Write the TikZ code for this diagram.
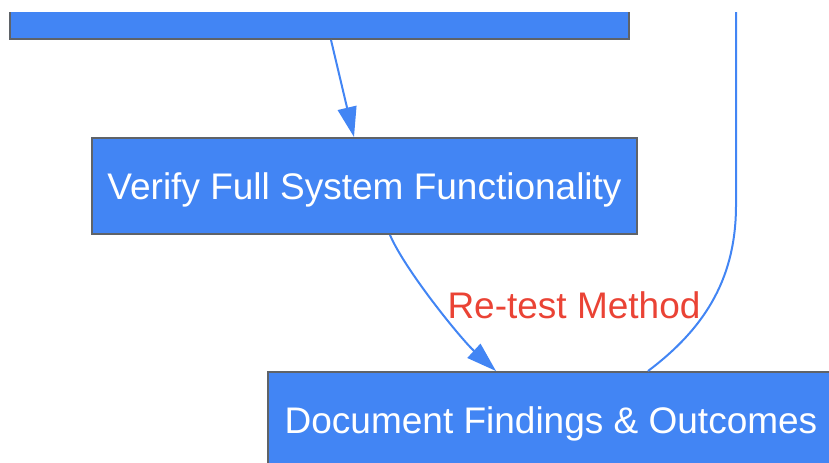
\documentclass[tikz,border=0pt]{standalone}
\usepackage{fontspec}
\setmainfont{Liberation Sans}
\usetikzlibrary{arrows.meta}
\definecolor{gblue}{HTML}{4285F4}
\definecolor{ggray}{HTML}{5F6368}
\definecolor{gred}{HTML}{EA4335}
\begin{document}
\begin{tikzpicture}[x = 0.5pt, y = -0.5pt,
	box/.style = {draw = ggray, line width = 1pt, fill = gblue, text = white, minimum height = 48pt, inner sep = 0pt, text depth = 0pt, font = \fontsize{18.5}{22}\selectfont},
	link/.style = {gblue, line width = 1pt},
	tip/.style = {-{Triangle[length = 15pt, width = 9.5pt]}}]
	\useasboundingbox (0,0) rectangle (829,462);
	\begin{scope}
	\clip (0,12) rectangle (829,462);
	\node[box, minimum width = 309.5pt] (check) at (319.5,-9) {};
	\node[box, minimum width = 272.5pt] (verify) at (364.5,186) {Verify Full System Functionality};
	\node[box, minimum width = 283pt] (document) at (551,420) {Document Findings \& Outcomes};
	\coordinate (loopbend) at (736,205);
	\coordinate (looptop) at (736,-60);
	\draw[link, tip] ([xshift = 5.75pt]check.south) -- ([xshift = -5.25pt]verify.north);
	\draw[link, tip] ([xshift = 12.75pt]verify.south) .. controls +(15,35) and +(-35,-32) .. ([xshift = -27.5pt]document.north);
	\draw[link] ([xshift = 48.5pt]document.north) .. controls +(60,-45) and +(0,70) .. (loopbend) -- (looptop);
	\node[text = gred, font = \fontsize{18.5}{22}\selectfont] (retest) at (574,305) {Re-test Method};
	\end{scope}
\end{tikzpicture}
\end{document}
